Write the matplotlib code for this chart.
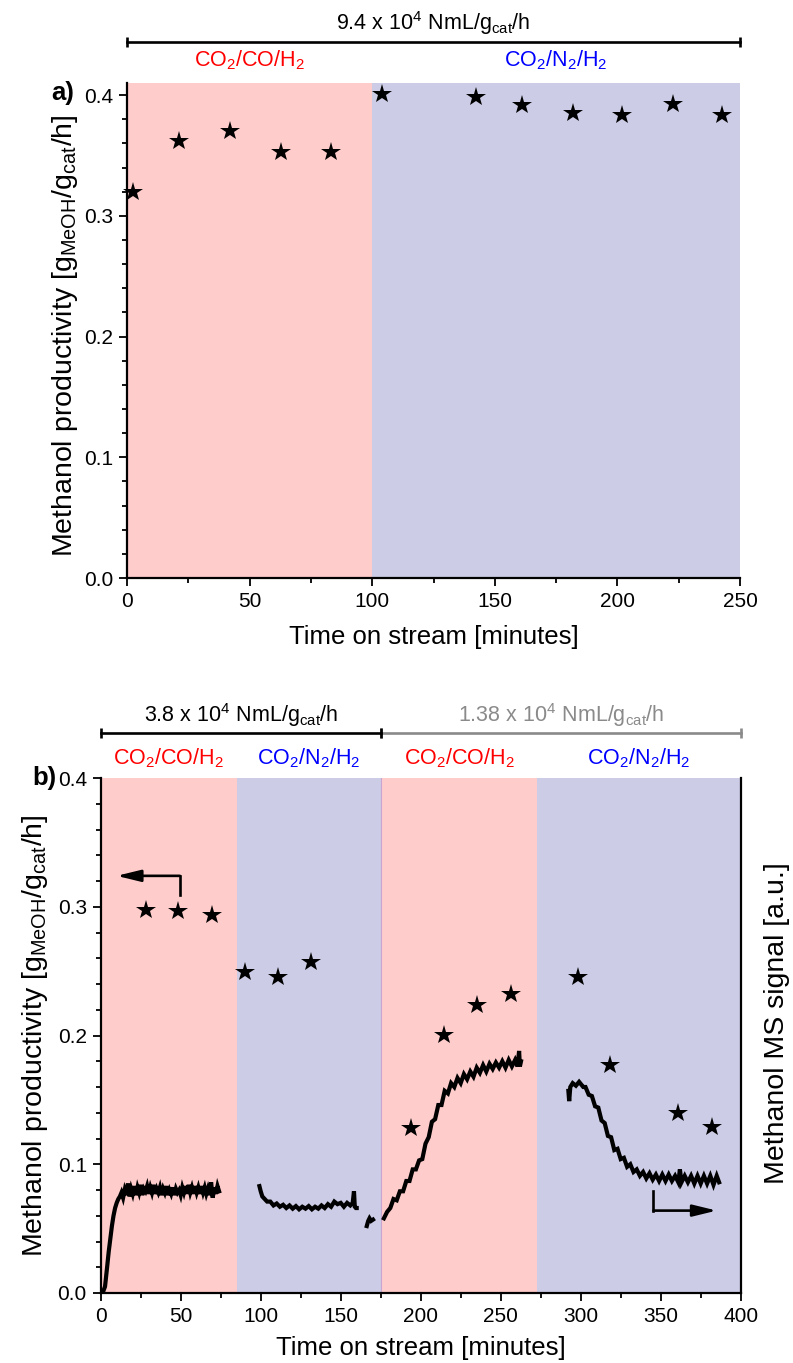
import matplotlib
matplotlib.use('Agg')
import matplotlib.pyplot as plt
import matplotlib.transforms as mtransforms
from matplotlib.ticker import MultipleLocator

plt.rcParams['font.family'] = ['Liberation Sans', 'DejaVu Sans']
plt.rcParams['mathtext.default'] = 'regular'

# ---------------- data ----------------
# panel a: methanol productivity (stars)
a_time = [2.6, 21.4, 41.9, 63.0, 83.0, 104.0, 142.5, 160.9, 181.7, 201.7, 222.5, 242.8]
a_prod = [0.3196, 0.362, 0.370, 0.3525, 0.3525, 0.4006, 0.398, 0.3915, 0.3854, 0.3838, 0.3923, 0.3833]
a_region_edges = [0, 100, 250]
a_region_labels = ['CO$_2$/CO/H$_2$', 'CO$_2$/N$_2$/H$_2$']
a_region_colors = ['#FFCCCC', '#CCCCE6']
a_region_text_colors = ['#FF0000', '#0000FF']
a_header = '9.4 x 10$^4$ NmL/g$_{cat}$/h'

# panel b: methanol productivity (stars)
b_time = [28.6, 48.4, 69.7, 90.5, 110.6, 131.4, 193.9, 214.8, 235.1, 256.3, 298.1, 318.4, 360.7, 381.9]
b_prod = [0.2975, 0.2969, 0.2936, 0.2491, 0.2457, 0.2573, 0.1279, 0.2004, 0.2237, 0.232,
          0.2452, 0.1771, 0.1396, 0.1292]
b_region_edges = [0, 85, 175, 273, 400]
b_region_labels = ['CO$_2$/CO/H$_2$', 'CO$_2$/N$_2$/H$_2$', 'CO$_2$/CO/H$_2$', 'CO$_2$/N$_2$/H$_2$']
b_region_colors = ['#FFCCCC', '#CCCCE6', '#FFCCCC', '#CCCCE6']
b_region_text_colors = ['#FF0000', '#0000FF', '#FF0000', '#0000FF']
b_headers = ['3.8 x 10$^4$ NmL/g$_{cat}$/h', '1.38 x 10$^4$ NmL/g$_{cat}$/h']
b_header_spans = [(0, 175), (175, 400)]
b_header_colors = ['#000000', '#8A8A8A']

# panel b: methanol MS signal trace (same scale as left axis), segments
ms_seg1_t = [0, 1.5, 2.7, 4, 5, 6, 7, 8, 9, 10, 11, 12, 13, 14, 15, 16, 17, 18, 19, 20, 21,
             22, 23, 24, 25, 26, 27, 28, 29, 30, 31, 32, 33, 34, 35, 36, 37, 38, 39, 40, 41,
             42, 43, 44, 45, 46, 47, 48, 49, 50, 51, 52, 53, 54, 55, 56, 57, 58, 59, 60, 61,
             62, 63, 64, 65, 66, 67, 68, 69, 70, 71, 72, 73, 74]
ms_seg1_v = [0.000, 0.001, 0.005, 0.020, 0.032, 0.042, 0.052, 0.060, 0.066, 0.070, 0.073,
             0.075, 0.078, 0.074, 0.080, 0.076, 0.085, 0.075, 0.081, 0.077, 0.083, 0.076,
             0.082, 0.078, 0.084, 0.076, 0.081, 0.079, 0.083, 0.077, 0.082, 0.078, 0.084,
             0.077, 0.081, 0.078, 0.082, 0.076, 0.081, 0.078, 0.083, 0.076, 0.080, 0.077,
             0.082, 0.076, 0.081, 0.078, 0.080, 0.076, 0.082, 0.078, 0.083, 0.077, 0.084,
             0.078, 0.082, 0.077, 0.083, 0.078, 0.082, 0.077, 0.083, 0.078, 0.082, 0.077,
             0.081, 0.076, 0.086, 0.074, 0.082, 0.077, 0.083, 0.079]
ms_seg2_t = [99.2, 100, 101, 102.5, 104, 106, 108, 110, 112, 114, 116, 118, 120, 122, 124,
             126, 128, 130, 132, 134, 136, 138, 140, 142, 144, 146, 148, 150, 152, 154, 156,
             157.5, 158.3, 158.8, 159.5, 160]
ms_seg2_v = [0.083, 0.079, 0.075, 0.073, 0.071, 0.071, 0.068, 0.0695, 0.067, 0.0685, 0.066,
             0.068, 0.0655, 0.0675, 0.065, 0.067, 0.0655, 0.0675, 0.065, 0.067, 0.0655,
             0.068, 0.066, 0.069, 0.067, 0.071, 0.069, 0.070, 0.067, 0.070, 0.068, 0.070,
             0.079, 0.067, 0.066, 0.066]
ms_seg3_t = [166.3, 167.2, 168, 169, 170.2]
ms_seg3_v = [0.052, 0.056, 0.058, 0.056, 0.057]
ms_seg4_t = [177, 179, 181, 183, 185, 187, 189, 191, 193, 195, 197, 199, 201, 203, 205, 207,
             209, 211, 213, 215, 217, 219, 221, 223, 225, 227, 229, 231, 233, 235, 237, 239,
             241, 243, 245, 247, 249, 251, 253, 255, 257, 259, 260.5, 261.5, 262, 262.7]
ms_seg4_v = [0.058, 0.063, 0.066, 0.073, 0.072, 0.079, 0.079, 0.087, 0.087, 0.096, 0.096,
             0.103, 0.104, 0.116, 0.121, 0.133, 0.135, 0.146, 0.146, 0.157, 0.155, 0.163,
             0.160, 0.167, 0.163, 0.170, 0.166, 0.172, 0.168, 0.175, 0.171, 0.177, 0.172,
             0.178, 0.174, 0.179, 0.175, 0.180, 0.175, 0.181, 0.176, 0.181, 0.176, 0.188,
             0.176, 0.180]
ms_seg5_t = [292.3, 292.8, 293.5, 295, 297, 299, 301.6, 303, 305, 307, 309, 311, 313, 315,
             317, 319, 321, 323, 325, 327, 329, 331, 333, 335, 337, 339, 341, 343, 345, 347,
             349, 351, 353, 355, 357, 359, 361, 362, 363, 365, 367, 369, 371, 373, 375, 377,
             379, 381, 383, 385, 386.5]
ms_seg5_v = [0.157, 0.149, 0.160, 0.163, 0.161, 0.164, 0.160, 0.160, 0.154, 0.153, 0.145,
             0.144, 0.134, 0.132, 0.122, 0.121, 0.111, 0.112, 0.104, 0.105, 0.098, 0.100,
             0.094, 0.096, 0.091, 0.094, 0.089, 0.093, 0.088, 0.092, 0.087, 0.092, 0.087,
             0.092, 0.087, 0.091, 0.086, 0.096, 0.086, 0.091, 0.086, 0.091, 0.085, 0.091,
             0.085, 0.091, 0.085, 0.091, 0.084, 0.091, 0.086]
ms_segments = [(ms_seg1_t, ms_seg1_v), (ms_seg2_t, ms_seg2_v), (ms_seg3_t, ms_seg3_v),
               (ms_seg4_t, ms_seg4_v), (ms_seg5_t, ms_seg5_v)]

# axis-pointer arrows (elbow: corner -> start of leg -> tip)
left_arrow = dict(x=49.5, y0=0.309, y1=0.324, tip=10)
right_arrow = dict(x=345.5, y0=0.079, y1=0.064, tip=385)

ylabel_text = 'Methanol productivity [g$_{MeOH}$/g$_{cat}$/h]'
xlabel_text = 'Time on stream [minutes]'

# ---------------- figure ----------------
W, H = 793, 1363
fig = plt.figure(figsize=(W / 100, H / 100), dpi=100)

ax_a = fig.add_axes([127 / W, 1 - 578 / H, 613 / W, 495 / H])
ax_b = fig.add_axes([100.7 / W, 1 - 1293 / H, 640 / W, 515 / H])

TICK_FS = 15
XLABEL_FS = 18.5
YLABEL_FS = 20.5
HEAD_FS = 15.5


def style_axes(ax, xmax, ymax, xmajor, xminor):
    ax.set_xlim(0, xmax)
    ax.set_ylim(0, ymax)
    ax.xaxis.set_major_locator(MultipleLocator(xmajor))
    ax.xaxis.set_minor_locator(MultipleLocator(xminor))
    ax.yaxis.set_major_locator(MultipleLocator(0.1))
    ax.yaxis.set_minor_locator(MultipleLocator(0.02))
    ax.yaxis.set_major_formatter(matplotlib.ticker.FormatStrFormatter('%.1f'))
    ax.tick_params(which='both', direction='out', width=1.3, labelsize=TICK_FS,
                   top=False, right=False)
    ax.tick_params(which='major', length=6, pad=4)
    ax.tick_params(which='minor', length=3.5)
    ax.spines['top'].set_visible(False)
    ax.spines['right'].set_visible(False)
    for s in ('left', 'bottom'):
        ax.spines[s].set_linewidth(1.6)
    ax.set_xlabel(xlabel_text, fontsize=XLABEL_FS)
    ax.set_ylabel(ylabel_text, fontsize=YLABEL_FS)


# ---- panel a ----
style_axes(ax_a, 250, 0.41, 50, 25)
for i, lab in enumerate(a_region_labels):
    x0, x1 = a_region_edges[i], a_region_edges[i + 1]
    ax_a.axvspan(x0, x1, color=a_region_colors[i], lw=0, zorder=0)
ax_a.plot(a_time, a_prod, linestyle='none', marker='*', ms=14.5, color='k', mew=0,
          clip_on=False, zorder=3)
tr_a = mtransforms.blended_transform_factory(ax_a.transData, ax_a.transAxes)
for i, lab in enumerate(a_region_labels):
    x0, x1 = a_region_edges[i], a_region_edges[i + 1]
    ax_a.text((x0 + x1) / 2, 1.033, lab, transform=tr_a, ha='center', va='baseline',
              color=a_region_text_colors[i], fontsize=HEAD_FS)
ax_a.plot([0, 250], [1.0834, 1.0834], transform=tr_a, color='k', lw=1.9, clip_on=False,
          marker='|', ms=7, mew=1.9)
ax_a.text(125, 1.108, a_header, transform=tr_a, ha='center', va='baseline',
          fontsize=HEAD_FS)
ax_a.xaxis.set_label_coords(0.5, -0.095)
ax_a.yaxis.set_label_coords(-0.077, 0.49)
fig.text(63 / W, 1 - 93 / H, 'a)', fontsize=18.5, fontweight='bold', ha='center', va='center')

# ---- panel b ----
style_axes(ax_b, 400, 0.4, 50, 25)
for i, lab in enumerate(b_region_labels):
    x0, x1 = b_region_edges[i], b_region_edges[i + 1]
    ax_b.axvspan(x0, x1, color=b_region_colors[i], lw=0, zorder=0)
ax_b.axvline(b_region_edges[2], color='#C9A6D0', lw=0.8, zorder=0.5)
for t, v in ms_segments:
    ax_b.plot(t, v, color='k', lw=3.0, zorder=2, solid_joinstyle='miter')
ax_b.plot(b_time, b_prod, linestyle='none', marker='*', ms=14.5, color='k', mew=0, zorder=3)

tr_b = mtransforms.blended_transform_factory(ax_b.transData, ax_b.transAxes)
for i, lab in enumerate(b_region_labels):
    x0, x1 = b_region_edges[i], b_region_edges[i + 1]
    ax_b.text((x0 + x1) / 2, 1.027, lab, transform=tr_b, ha='center', va='baseline',
              color=b_region_text_colors[i], fontsize=HEAD_FS)
for (x0, x1), txt, col in zip(b_header_spans, b_headers, b_header_colors):
    ax_b.plot([x0, x1], [1.0868, 1.0868], transform=tr_b, color=col, lw=1.9,
              clip_on=False, marker='|', ms=7, mew=1.9, zorder=4 if col == '#000000' else 3)
    ax_b.text((x0 + x1) / 2, 1.108, txt, transform=tr_b, ha='center', va='baseline',
              color=col, fontsize=HEAD_FS)

# arrows
for arr in (left_arrow, right_arrow):
    ax_b.plot([arr['x'], arr['x']], [arr['y0'], arr['y1']], color='k', lw=1.9,
              solid_capstyle='projecting', zorder=4)
    ax_b.annotate('', xy=(arr['tip'], arr['y1']), xytext=(arr['x'], arr['y1']),
                  arrowprops=dict(arrowstyle='-|>,head_length=0.9,head_width=0.22',
                                  color='k', lw=1.9, shrinkA=0, shrinkB=0,
                                  mutation_scale=16), zorder=4)

ax_b.xaxis.set_label_coords(0.5, -0.083)
ax_b.yaxis.set_label_coords(-0.079, 0.5)

ax_b2 = ax_b.twinx()
ax_b2.set_ylim(0, 0.4)
ax_b2.set_yticks([])
for s in ('top', 'left', 'bottom'):
    ax_b2.spines[s].set_visible(False)
ax_b2.spines['right'].set_linewidth(1.6)
ax_b2.set_ylabel('Methanol MS signal [a.u.]', fontsize=YLABEL_FS)
ax_b2.yaxis.set_label_coords(1.037, 0.525)
fig.text(44 / W, 1 - 778 / H, 'b)', fontsize=18.5, fontweight='bold', ha='center', va='center')

fig.savefig('out.png', dpi=100)
